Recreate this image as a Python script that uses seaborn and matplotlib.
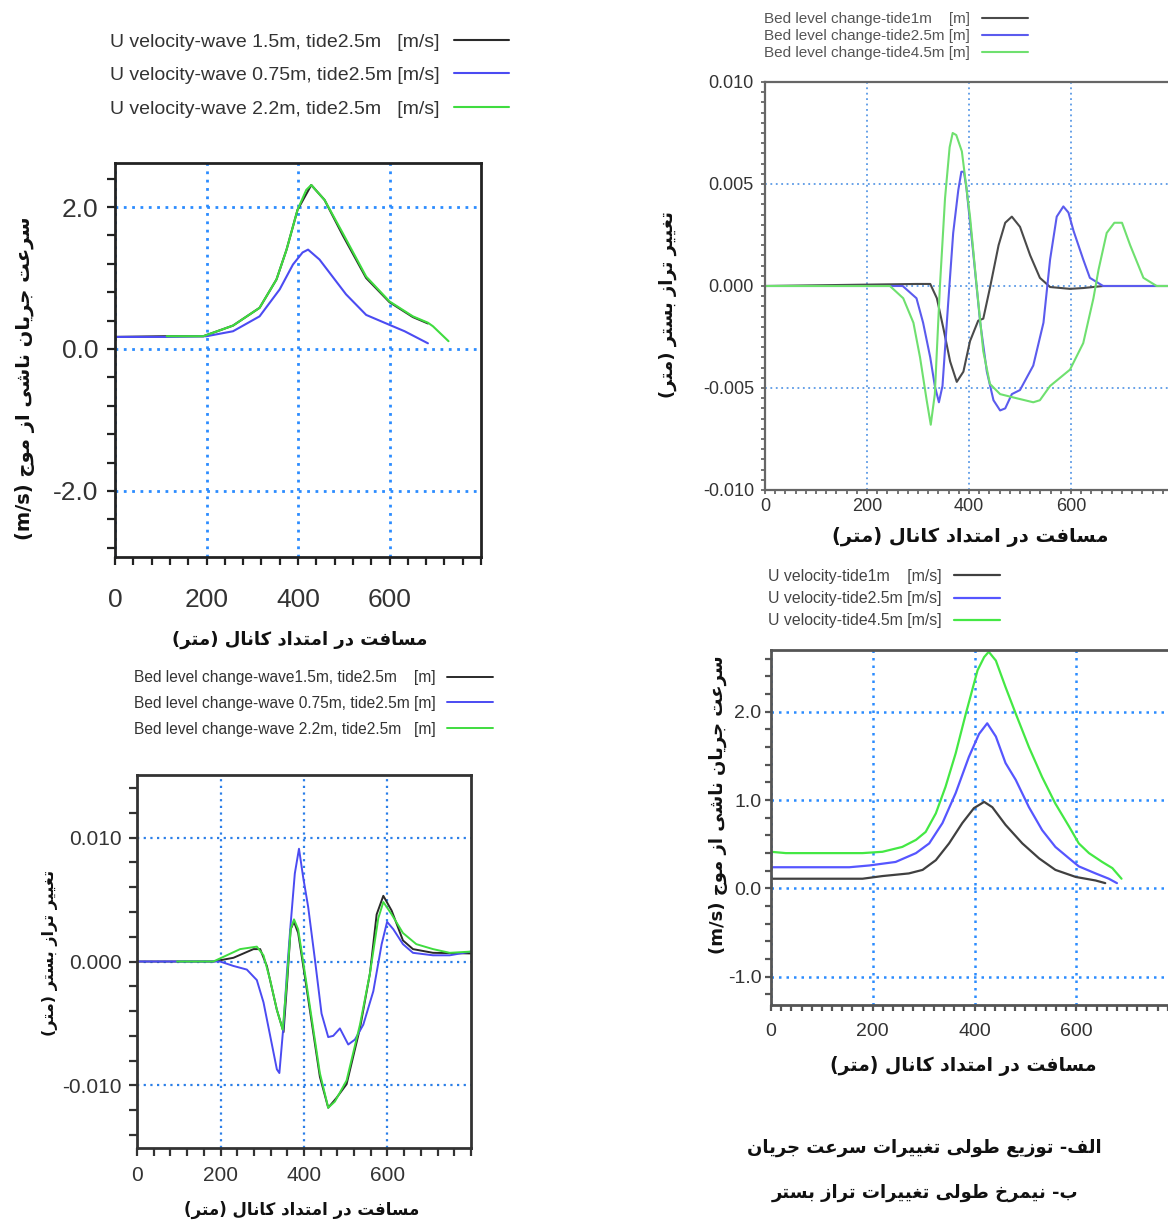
import matplotlib
matplotlib.use("Agg")
import matplotlib.pyplot as plt
import seaborn as sns
from matplotlib.ticker import MultipleLocator
from matplotlib.font_manager import FontProperties

# ---------------- data ----------------
# panel A: flow velocity, different waves (top-left)
xa_black = [0, 113, 193, 258, 316, 353, 375, 399, 429, 458, 498, 549, 600, 651, 684]
ya_black = [0.17, 0.18, 0.18, 0.33, 0.58, 0.98, 1.40, 1.96, 2.31, 2.10, 1.60, 1.00, 0.66, 0.45, 0.36]
xa_blue = [0, 110, 200, 258, 316, 360, 389, 410, 422, 447, 505, 549, 600, 633, 684]
ya_blue = [0.17, 0.17, 0.18, 0.25, 0.46, 0.84, 1.19, 1.36, 1.40, 1.26, 0.77, 0.48, 0.34, 0.25, 0.08]
xa_green = [113, 193, 258, 316, 353, 375, 399, 418, 429, 458, 498, 549, 600, 651, 684, 695, 729]
ya_green = [0.18, 0.18, 0.33, 0.58, 0.98, 1.40, 1.96, 2.24, 2.31, 2.10, 1.63, 1.02, 0.67, 0.46, 0.37, 0.32, 0.11]
labels_a = ["U velocity-wave 1.5m, tide2.5m   [m/s]",
            "U velocity-wave 0.75m, tide2.5m [m/s]",
            "U velocity-wave 2.2m, tide2.5m   [m/s]"]

# panel B: bed level change, different tides (top-right)
xb_black = [0, 297, 324, 337, 350, 363, 376, 389, 402, 418, 428, 441, 458, 471, 484, 500, 520, 539, 559, 598, 624, 663, 800]
yb_black = [0, 0.0001, 0.0001, -0.0006, -0.0021, -0.0037, -0.0047, -0.0042, -0.0027, -0.0017, -0.0016, -0.0001,
            0.0020, 0.0031, 0.0034, 0.0029, 0.0015, 0.0004, -0.00005, -0.00014, -0.0001, 0, 0]
xb_blue = [0, 270, 297, 310, 324, 333, 341, 348, 359, 369, 379, 385, 390, 395, 408, 422, 435, 448, 461, 471, 484,
           500, 526, 546, 559, 572, 585, 595, 605, 624, 637, 663, 800]
yb_blue = [0, 0, -0.0006, -0.0018, -0.0035, -0.0049, -0.0057, -0.0049, -0.0009, 0.0026, 0.0047, 0.0056, 0.0056,
           0.0048, 0.0017, -0.0018, -0.0042, -0.0056, -0.0061, -0.0060, -0.0053, -0.0051, -0.0039, -0.0018,
           0.0013, 0.0034, 0.0039, 0.0036, 0.0027, 0.0013, 0.0004, 0, 0]
xb_green = [0, 245, 271, 291, 304, 317, 325, 333, 343, 353, 362, 368, 375, 386, 402, 415, 428, 441, 461, 493, 526,
            539, 559, 598, 624, 644, 654, 670, 685, 700, 716, 742, 768, 800]
yb_green = [0, 0, -0.0006, -0.0018, -0.0035, -0.0056, -0.0068, -0.0053, 0, 0.0043, 0.0068, 0.0075, 0.0074, 0.0066,
            0.0034, 0, -0.0032, -0.0048, -0.0053, -0.0055, -0.0057, -0.0056, -0.0049, -0.0041, -0.0028, -0.0006,
            0.0008, 0.0026, 0.0031, 0.0031, 0.0020, 0.0004, 0, 0]
labels_b = ["Bed level change-tide1m    [m]",
            "Bed level change-tide2.5m [m]",
            "Bed level change-tide4.5m [m]"]

# panel C: bed level change, different waves (bottom-left)
xc_black = [0, 183, 231, 279, 295, 311, 335, 351, 360, 368, 376, 386, 402, 422, 438, 458, 478, 502, 534, 558, 574,
            590, 610, 637, 661, 709, 800]
yc_black = [0, 0, 0.0003, 0.0010, 0.0010, -0.00036, -0.0039, -0.0057, -0.0015, 0.0026, 0.0032, 0.0023, -0.0012,
            -0.0057, -0.0093, -0.0118, -0.0110, -0.0099, -0.0054, -0.00095, 0.0038, 0.0053, 0.0041, 0.0017,
            0.0010, 0.0007, 0.00065]
xc_blue = [0, 199, 231, 263, 287, 303, 319, 335, 341, 351, 359, 367, 378, 388, 398, 410, 426, 442, 458, 470, 486,
           506, 522, 542, 566, 586, 599, 614, 637, 661, 709, 749, 800]
yc_blue = [0, 0, -0.00036, -0.00065, -0.0015, -0.0033, -0.0060, -0.0087, -0.0090, -0.0051, -0.00095, 0.0026,
           0.0071, 0.0091, 0.0068, 0.0044, 0.0002, -0.0042, -0.0061, -0.0060, -0.0054, -0.0067, -0.0063, -0.0051,
           -0.0024, 0.0014, 0.0032, 0.0026, 0.0014, 0.0007, 0.0005, 0.0005, 0.0008]
xc_green = [96, 183, 215, 247, 287, 303, 319, 335, 349, 359, 368, 376, 386, 402, 418, 438, 458, 474, 502, 534, 558,
            578, 590, 610, 637, 669, 709, 749, 800]
yc_green = [0, 0, 0.0005, 0.0010, 0.0012, 0.0005, -0.0015, -0.0039, -0.0055, -0.0015, 0.0026, 0.0034, 0.0026,
            -0.0009, -0.0045, -0.0090, -0.0118, -0.0113, -0.0096, -0.0051, -0.00095, 0.0035, 0.0048, 0.0038,
            0.0023, 0.0014, 0.0010, 0.0007, 0.0008]
labels_c = ["Bed level change-wave1.5m, tide2.5m    [m]",
            "Bed level change-wave 0.75m, tide2.5m [m]",
            "Bed level change-wave 2.2m, tide2.5m   [m]"]

# panel D: flow velocity, different tides (bottom-right)
xd_black = [0, 180, 219, 271, 298, 324, 350, 376, 399, 419, 435, 461, 494, 527, 559, 599, 638, 657]
yd_black = [0.11, 0.11, 0.14, 0.17, 0.21, 0.32, 0.51, 0.74, 0.91, 0.98, 0.92, 0.72, 0.51, 0.34, 0.21, 0.13, 0.09, 0.06]
xd_blue = [0, 154, 193, 245, 285, 311, 337, 363, 389, 409, 425, 442, 461, 481, 507, 533, 559, 586, 605, 638, 664, 680]
yd_blue = [0.24, 0.24, 0.26, 0.30, 0.40, 0.51, 0.74, 1.08, 1.49, 1.75, 1.87, 1.72, 1.42, 1.23, 0.92, 0.66, 0.47,
           0.34, 0.25, 0.17, 0.11, 0.06]
xd_green = [0, 29, 180, 219, 258, 285, 304, 324, 343, 363, 383, 406, 419, 428, 442, 461, 481, 507, 533, 559, 586,
            605, 625, 651, 671, 689]
yd_green = [0.415, 0.40, 0.40, 0.415, 0.47, 0.55, 0.64, 0.85, 1.15, 1.53, 1.98, 2.47, 2.62, 2.68, 2.58, 2.28, 1.98,
            1.60, 1.26, 0.96, 0.70, 0.51, 0.40, 0.30, 0.23, 0.11]
labels_d = ["U velocity-tide1m    [m/s]",
            "U velocity-tide2.5m [m/s]",
            "U velocity-tide4.5m [m/s]"]

# persian texts (logical order)
FA_VEL = "سرعت جریان ناشی از موج"
FA_BED = "تغییر تراز بستر (متر)"
FA_DIST = "مسافت در امتداد کانال (متر)"
FA_CAP1 = "الف- توزیع طولی تغییرات سرعت جریان"
FA_CAP2 = "ب- نیمرخ طولی تغییرات تراز بستر"

# ---------------- persian shaping (matplotlib has no bidi / joining) ----------------
FORMS = {
    "ا": ("\uFE8D", "\uFE8E", None, None), "ب": ("\uFE8F", "\uFE90", "\uFE91", "\uFE92"),
    "ت": ("\uFE95", "\uFE96", "\uFE97", "\uFE98"), "ج": ("\uFE9D", "\uFE9E", "\uFE9F", "\uFEA0"),
    "خ": ("\uFEA5", "\uFEA6", "\uFEA7", "\uFEA8"), "د": ("\uFEA9", "\uFEAA", None, None),
    "ر": ("\uFEAD", "\uFEAE", None, None), "ز": ("\uFEAF", "\uFEB0", None, None),
    "س": ("\uFEB1", "\uFEB2", "\uFEB3", "\uFEB4"), "ش": ("\uFEB5", "\uFEB6", "\uFEB7", "\uFEB8"),
    "ط": ("\uFEC1", "\uFEC2", "\uFEC3", "\uFEC4"), "ع": ("\uFEC9", "\uFECA", "\uFECB", "\uFECC"),
    "غ": ("\uFECD", "\uFECE", "\uFECF", "\uFED0"), "ف": ("\uFED1", "\uFED2", "\uFED3", "\uFED4"),
    "ل": ("\uFEDD", "\uFEDE", "\uFEDF", "\uFEE0"), "م": ("\uFEE1", "\uFEE2", "\uFEE3", "\uFEE4"),
    "ن": ("\uFEE5", "\uFEE6", "\uFEE7", "\uFEE8"), "و": ("\uFEED", "\uFEEE", None, None),
    "ک": ("\uFB8E", "\uFB8F", "\uFB90", "\uFB91"), "ی": ("\uFBFC", "\uFBFD", "\uFBFE", "\uFBFF"),
}


def fa(text):
    out = []
    for i, ch in enumerate(text):
        f = FORMS.get(ch)
        if f is None:
            out.append(ch)
            continue
        prev = text[i - 1] if i > 0 else ""
        nxt = text[i + 1] if i < len(text) - 1 else ""
        jp = prev in FORMS and FORMS[prev][2] is not None
        jn = f[2] is not None and nxt in FORMS
        if jp and jn:
            out.append(f[3])
        elif jp:
            out.append(f[1])
        elif jn:
            out.append(f[2])
        else:
            out.append(f[0])
    return "".join(reversed(out)).translate(str.maketrans("()", ")("))


# ---------------- figure ----------------
sns.set_theme(style="white")
plt.rcParams["font.family"] = ["Liberation Sans", "DejaVu Sans"]

W, H = 1168, 1223
fig = plt.figure(figsize=(W / 100, H / 100), dpi=100)
SANS = ["Liberation Sans", "DejaVu Sans"]
FA_FONT = ["DejaVu Sans"]


def rect(left, top, right, bottom):
    return [left / W, 1 - bottom / H, (right - left) / W, (bottom - top) / H]


def panel(box, series, colors, labels, lw, ylim, xminor, yticks, ylabels, yminor,
          tick_size, spine_c, spine_w, tick_len, grid_c, grid_w, xpad, ypad):
    ax = fig.add_axes(rect(*box))
    for (xs, ys), c, lab in zip(series, colors, labels):
        sns.lineplot(x=xs, y=ys, color=c, linewidth=lw, label=lab, ax=ax, sort=False, estimator=None)
    if ax.get_legend() is not None:
        ax.get_legend().remove()
    ax.set_xlim(0, 800)
    ax.set_ylim(*ylim)
    ax.set_xticks([0, 200, 400, 600])
    ax.set_xticklabels(["0", "200", "400", "600"], family=SANS, fontsize=tick_size, color="#333333")
    ax.set_yticks(yticks)
    ax.set_yticklabels(ylabels, family=SANS, fontsize=tick_size, color="#333333")
    ax.xaxis.set_minor_locator(MultipleLocator(xminor))
    ax.yaxis.set_minor_locator(MultipleLocator(yminor))
    ax.tick_params(which="both", direction="out", left=True, bottom=True, length=tick_len,
                   width=spine_w * 0.8, color=spine_c)
    ax.tick_params(axis="x", which="major", pad=xpad)
    ax.tick_params(axis="y", which="major", pad=ypad)
    for s in ax.spines.values():
        s.set_color(spine_c)
        s.set_linewidth(spine_w)
    ax.grid(True, which="major", color=grid_c, linestyle=(0, (1, 2)), linewidth=grid_w)
    ax.set_axisbelow(True)
    return ax


BLACK, BLUE, GREEN = "#2a2a2a", "#4b4bf2", "#3fdc3f"

# A
ax_a = panel((115, 163, 481, 557), [(xa_black, ya_black), (xa_blue, ya_blue), (xa_green, ya_green)],
             [BLACK, BLUE, GREEN], labels_a, 1.5, (-2.93, 2.62), 40,
             [-2, 0, 2], ["-2.0", "0.0", "2.0"], 0.4,
             19, "#222222", 2.0, 6, "#2b8cff", 2.0, 16, 6)
# B
ax_b = panel((765, 82, 1173, 490), [(xb_black, yb_black), (xb_blue, yb_blue), (xb_green, yb_green)],
             ["#4a4a4a", "#5b5bee", "#6fe06f"], labels_b, 1.5, (-0.010, 0.010), 20,
             [-0.010, -0.005, 0, 0.005, 0.010], ["-0.010", "-0.005", "0.000", "0.005", "0.010"], 0.0005,
             13, "#666666", 1.6, 3, "#5b9ae6", 1.3, 3, 5)
# C
ax_c = panel((137, 775, 471, 1148), [(xc_black, yc_black), (xc_blue, yc_blue), (xc_green, yc_green)],
             [BLACK, BLUE, GREEN], labels_c, 1.4, (-0.01505, 0.01505), 40,
             [-0.010, 0, 0.010], ["-0.010", "0.000", "0.010"], 0.002,
             15, "#333333", 2.0, 6, "#2b7fe8", 1.6, 7, 5)
# D
ax_d = panel((771, 650, 1178, 1005), [(xd_black, yd_black), (xd_blue, yd_blue), (xd_green, yd_green)],
             ["#404040", "#5656ff", "#44e844"], labels_d, 1.6, (-1.32, 2.70), 20,
             [-1, 0, 1, 2], ["-1.0", "0.0", "1.0", "2.0"], 0.2,
             14, "#555555", 2.0, 4, "#2b8cff", 1.8, 9, 3)

# legends above each panel, sample line on the right of the text
leg_cfg = [
    (ax_a, 110, 33, 14, 2.8, 0.75, 0.82, "#333333"),
    (ax_b, 764, 12, 11, 3.0, 0.8, 0.2, "#555555"),
    (ax_c, 134, 670, 11.2, 2.9, 0.75, 0.7, "#333333"),
    (ax_d, 768, 569, 11.4, 2.9, 0.8, 0.45, "#444444"),
]
for ax, lx, ly, size, hl, hp, sp, tc in leg_cfg:
    h, l = ax.get_legend_handles_labels()
    leg = fig.legend(h, l, loc="upper left", bbox_to_anchor=(lx / W, 1 - ly / H), frameon=False,
                     markerfirst=False, borderpad=0, borderaxespad=0, handlelength=hl, handletextpad=hp,
                     labelspacing=sp, prop=FontProperties(family=SANS, size=size))
    for t in leg.get_texts():
        t.set_color(tc)


# persian axis titles and captions
def ftext(x, y, s, size, rot=0):
    fig.text(x / W, 1 - y / H, s, ha="center", va="center", rotation=rot, fontsize=size,
             fontweight="bold", family=FA_FONT, color="#111111")


ftext(25, 378, "(m/s) " + fa(FA_VEL), 14, 90)
ftext(300, 640, fa(FA_DIST), 13)
ftext(668, 305, fa(FA_BED), 13, 90)
ftext(970, 537, fa(FA_DIST), 14)
ftext(50, 953, fa(FA_BED), 11.5, 90)
ftext(302, 1210, fa(FA_DIST), 12)
ftext(718, 805, "(m/s) " + fa(FA_VEL), 13, 90)
ftext(963, 1066, fa(FA_DIST), 13.5)
ftext(924, 1148, fa(FA_CAP1), 13)
ftext(925, 1193, fa(FA_CAP2), 13)

fig.savefig("out.png", dpi=100)
